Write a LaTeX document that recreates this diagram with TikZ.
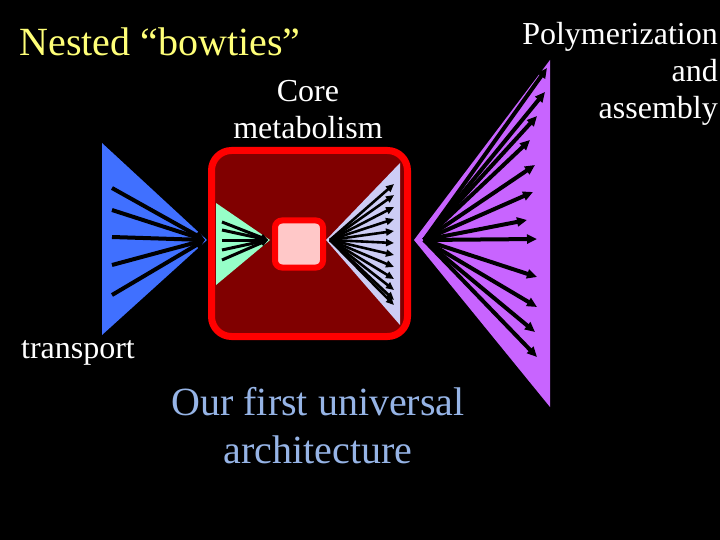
\documentclass[tikz,border=0pt]{standalone}
\usepackage{fontspec}
\setmainfont{Liberation Serif}
\usetikzlibrary{arrows.meta}
\definecolor{bluet}{RGB}{64,112,255}
\definecolor{greent}{RGB}{150,255,200}
\definecolor{lavt}{RGB}{205,205,245}
\definecolor{purpt}{RGB}{200,100,255}
\definecolor{darkred}{RGB}{128,0,0}
\definecolor{pinkc}{RGB}{255,200,200}
\definecolor{ltblue}{RGB}{150,180,230}
\definecolor{yel}{RGB}{255,255,120}
\begin{document}
\begin{tikzpicture}[x=1pt,y=-1pt,
  arr/.style={-{Triangle[length=10pt,width=9pt]},line width=4pt,black},
  lbl/.style={text=white,font=\fontsize{32}{37}\selectfont,align=center,inner sep=0}]
\fill[black] (0,0) rectangle (720,540);
\useasboundingbox (0,0) rectangle (720,540);
% blue
\fill[bluet] (102,143) -- (102,335) -- (207,240) -- cycle;
\coordinate (bA) at (205,240);
\foreach \y [count=\i] in {188,210,237,265,295} {\coordinate (b\i) at (112,\y); \draw[arr] (b\i) -- (bA);}
% red box
\node[draw=red,line width=7pt,fill=darkred,rounded corners=20pt,minimum width=196pt,minimum height=186pt] (core) at (309.5,243.5) {};
\fill[greent] (216,203) -- (216,285) -- (270,240) -- cycle;
\coordinate (gA) at (268,240);
\foreach \y [count=\i] in {222,230,240,250,260} {\coordinate (g\i) at (222,\y); \draw[arr,line width=3pt,-{Triangle[length=7pt,width=7pt]}] (g\i) -- (gA);}
\fill[lavt] (326,240) -- (400,163) -- (400,325) -- cycle;
\coordinate (lA) at (330,240);
\foreach \y [count=\i] in {184,195,207,219,231,243,255,267,279,290,300,305} {\coordinate (l\i) at (394,\y); \draw[arr,line width=2.6pt,-{Triangle[length=8pt,width=7pt]}] (lA) -- (l\i);}
\node[draw=red,line width=6pt,fill=pinkc,rounded corners=7pt,minimum width=48pt,minimum height=47pt] (ctr) at (299,244) {};
% purple
\fill[purpt] (414,240) -- (550,60) -- (550,407) -- cycle;
\coordinate (pA) at (424,240);
\foreach \x/\y [count=\i] in {547/68,545/92,537/116,530/140,535/165,533/192,527/220,537/239,537/277,537/307,535/332,537/357} {\coordinate (p\i) at (\x,\y); \draw[arr] (pA) -- (p\i);}
% texts
\node[text=yel,font=\fontsize{40}{44}\selectfont,inner sep=0] (t1) at (160,42) {Nested “bowties”};
\node[lbl] (t2) at (308,110) {Core\\metabolism};
\node[lbl,align=right,anchor=north east] (t3) at (718,22) {Polymerization\\and\\assembly};
\node[lbl] (t4) at (78,353) {transport};
\node[text=ltblue,font=\fontsize{40}{48}\selectfont,align=center,inner sep=0] (t5) at (318,426) {Our first universal\\architecture};
\end{tikzpicture}
\end{document}
